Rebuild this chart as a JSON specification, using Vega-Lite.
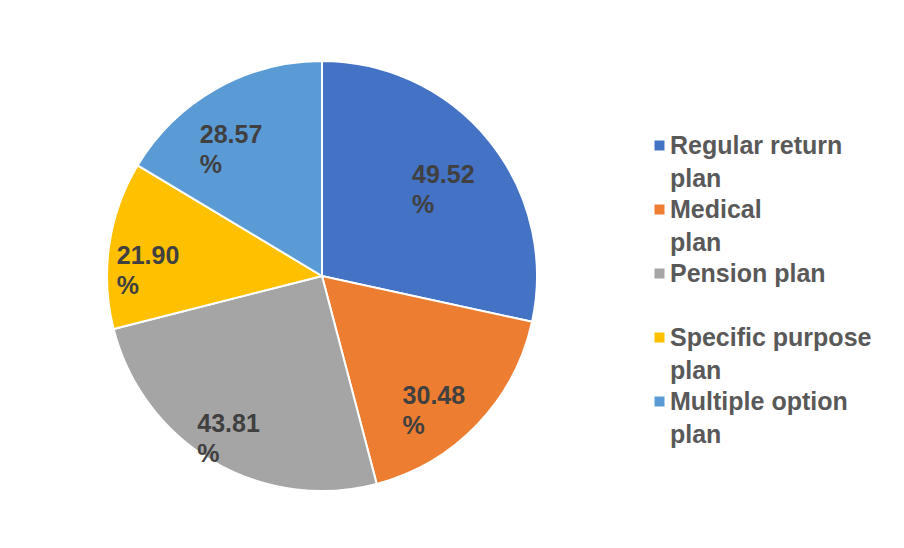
{
  "$schema": "https://vega.github.io/schema/vega-lite/v6.json",
  "width": 430,
  "height": 430,
  "autosize": "none",
  "padding": {"left": 107, "top": 61, "right": 367, "bottom": 57},
  "background": "white",
  "view": {"stroke": null},
  "config": {
    "style": {"guide-label": {"lineHeight": 33}}
  },
  "data": {
    "values": [
      {"plan": "Regular return plan", "value": 49.52, "idx": 1},
      {"plan": "Medical plan", "value": 30.48, "idx": 2},
      {"plan": "Pension plan", "value": 43.81, "idx": 3},
      {"plan": "Specific purpose plan", "value": 21.90, "idx": 4},
      {"plan": "Multiple option plan", "value": 28.57, "idx": 5}
    ]
  },
  "encoding": {
    "theta": {"field": "value", "type": "quantitative", "stack": true},
    "order": {"field": "idx", "type": "quantitative"}
  },
  "layer": [
    {
      "mark": {"type": "arc", "outerRadius": 215, "stroke": "white", "strokeWidth": 2},
      "encoding": {
        "color": {
          "field": "plan",
          "type": "nominal",
          "scale": {
            "domain": ["Regular return plan", "Medical plan", "Pension plan", "Specific purpose plan", "Multiple option plan"],
            "range": ["#4472C4", "#ED7D31", "#A5A5A5", "#FFC000", "#5B9BD5"]
          },
          "legend": {
            "title": null,
            "orient": "none",
            "legendX": 540,
            "legendY": 72,
            "padding": 0,
            "symbolType": "square",
            "symbolSize": 100,
            "symbolOpacity": 1,
            "symbolStrokeWidth": 0,
            "labelExpr": "datum.label == 'Regular return plan' ? ['Regular return', 'plan'] : datum.label == 'Medical plan' ? ['Medical', 'plan'] : datum.label == 'Pension plan' ? ['Pension plan', ''] : datum.label == 'Specific purpose plan' ? ['Specific purpose', 'plan'] : ['\u2002Multiple option', '\u2002plan']",
            "labelFont": "Liberation Sans",
            "labelFontWeight": "bold",
            "labelFontSize": 25,
            "labelColor": "#595959",
            "labelLimit": 300,
            "labelOffset": -2,
            "rowPadding": 5,
            "encode": {"labels": {"update": {"lineHeight": {"value": 33}}}}
          }
        }
      }
    },
    {
      "mark": {
        "type": "text",
        "radius": 167,
        "align": "left",
        "baseline": "middle",
        "dx": -40,
        "dy": 4,
        "font": "Liberation Sans",
        "fontWeight": "bold",
        "fontSize": 25,
        "color": "#404040"
      },
      "encoding": {
        "text": {"field": "value", "type": "quantitative", "format": ".2f"}
      }
    },
    {
      "mark": {
        "type": "text",
        "radius": 167,
        "align": "left",
        "baseline": "middle",
        "dx": -40,
        "dy": 34,
        "font": "Liberation Sans",
        "fontWeight": "bold",
        "fontSize": 25,
        "color": "#404040"
      },
      "encoding": {
        "text": {"value": "%"}
      }
    }
  ]
}
